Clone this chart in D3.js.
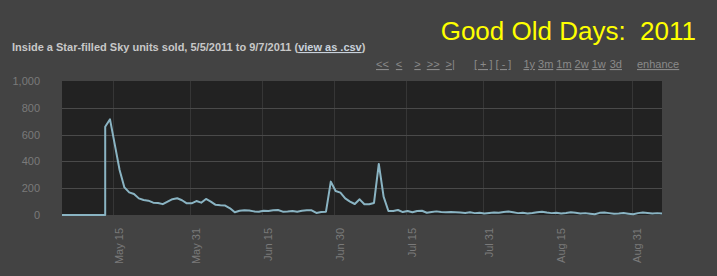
<!DOCTYPE html>
<html>
<head>
<meta charset="utf-8">
<script src="https://cdn.jsdelivr.net/npm/d3@7"></script>
<style>
  body { margin: 0; background: #434343; }
  svg { display: block; font-family: "Liberation Sans", Arial, sans-serif; }
</style>
</head>
<body>
<div id="chart"></div>
<script>
// daily units sold, starting 5/5/2011
var startDate = "2011-05-05";
var firstSaleIndex = 9;   // day the game launched (sales before it are 0)
var units = [
  0, 0, 0, 0, 0, 0, 0, 0, 0,
  659, 714, 525, 336, 206, 169, 157, 124, 112, 107,
  92, 90, 81, 100, 118, 125, 110, 87, 87, 104,
  92, 120, 100, 76, 72, 70, 50, 20, 32, 35,
  34, 27, 24, 32, 30, 35, 37, 25, 27, 30,
  25, 32, 35, 35, 15, 22, 25, 249, 179, 167,
  124, 100, 82, 117, 80, 80, 90, 381, 137, 30,
  30, 37, 22, 30, 20, 30, 32, 17, 22, 27,
  22, 20, 22, 20, 18, 15, 20, 14, 16, 12,
  15, 18, 16, 22, 26, 20, 14, 16, 12, 15,
  20, 25, 18, 14, 16, 12, 15, 20, 16, 12,
  14, 10, 6, 16, 18, 14, 10, 12, 15, 10,
  5, 14, 18, 15, 12, 14, 12
];
var yTicks = [0, 200, 400, 600, 800, 1000];
var xTickDates = ["2011-05-15", "2011-05-31", "2011-06-15", "2011-06-30",
                  "2011-07-15", "2011-07-31", "2011-08-15", "2011-08-31"];
var tickShiftHours = 16; // ticks sit a bit after midnight on the source chart

var title = "Good Old Days:  2011";
var subtitle = "Inside a Star-filled Sky units sold, 5/5/2011 to 9/7/2011 (";
var csvLink = "view as .csv";
var navLinks = ["<<", "<", ">", ">>", ">|", "[ + ]", "[ - ]", "1y", "3m", "1m", "2w", "1w", "3d", "enhance"];
var navGaps  = [0, 7, 12, 6, 6, 19, 3, 12, 3, 3, 3, 3, 4, 15];

var W = 717, H = 276;
var margin = {top: 81, right: 55, bottom: 61, left: 62},
    width = W - margin.left - margin.right,
    height = H - margin.top - margin.bottom;

var parse = d3.timeParse("%Y-%m-%d");
var t0 = parse(startDate);
var data = units.map(function(u, i) { return {date: d3.timeDay.offset(t0, i), units: u}; });
// launch day: vertical jump from 0
var lineData = data.slice(0, firstSaleIndex)
  .concat([{date: data[firstSaleIndex].date, units: 0}])
  .concat(data.slice(firstSaleIndex));

var svg = d3.select("#chart").append("svg")
    .attr("width", W)
    .attr("height", H);

svg.append("rect").attr("width", W).attr("height", H).attr("fill", "#434343");

var x = d3.scaleTime()
    .domain(d3.extent(data, function(d) { return d.date; }))
    .range([0, width]);
var y = d3.scaleLinear().domain([0, 1000]).range([height, 0]);

// title
svg.append("text")
    .attr("x", 696)
    .attr("y", 40)
    .attr("text-anchor", "end")
    .attr("fill", "#ffff00")
    .attr("font-size", 26)
    .style("white-space", "pre")
    .text(title);

var sub = svg.append("text")
    .attr("x", 12)
    .attr("y", 51)
    .attr("font-size", 11)
    .attr("font-weight", "bold")
    .attr("fill", "#c8c8c8");
sub.append("tspan").text(subtitle);
sub.append("tspan").attr("text-decoration", "underline").attr("fill", "#c9d2dc").text(csvLink);
sub.append("tspan").text(")");

// nav links
var navX = 376;
navLinks.forEach(function(s, i) {
  navX += navGaps[i];
  var t = svg.append("text")
      .attr("x", navX)
      .attr("y", 68)
      .attr("font-size", 11)
      .attr("fill", "#8a8a8a")
      .attr("text-decoration", "underline")
      .text(s);
  navX += t.node().getComputedTextLength();
});

var g = svg.append("g")
    .attr("transform", "translate(" + margin.left + "," + margin.top + ")");

g.append("rect")
    .attr("width", width)
    .attr("height", height)
    .attr("fill", "#222222");

var xTicks = xTickDates.map(function(s) { return d3.timeHour.offset(parse(s), tickShiftHours); });

// vertical grid
g.selectAll(".vgrid")
  .data(xTicks)
  .enter().append("line")
    .attr("class", "vgrid")
    .attr("x1", function(d) { return Math.round(x(d)) + 0.5; })
    .attr("x2", function(d) { return Math.round(x(d)) + 0.5; })
    .attr("y1", 0)
    .attr("y2", height)
    .attr("stroke", "#363636");

// horizontal grid
g.selectAll(".hgrid")
  .data(yTicks.filter(function(v) { return v > 0 && v < 1000; }))
  .enter().append("line")
    .attr("class", "hgrid")
    .attr("x1", 0)
    .attr("x2", width)
    .attr("y1", function(d) { return Math.round(y(d)) + 0.5; })
    .attr("y2", function(d) { return Math.round(y(d)) + 0.5; })
    .attr("stroke", "#4a4a4a");

var yAxis = d3.axisLeft(y)
    .tickValues(yTicks)
    .tickSize(0)
    .tickPadding(22)
    .tickFormat(d3.format(","));

var yg = g.append("g").call(yAxis);
yg.select(".domain").remove();
yg.selectAll("text").attr("fill", "#7a7a7a").attr("font-size", 11)
  .style("font-family", "'Liberation Sans', Arial, sans-serif");

var xAxis = d3.axisBottom(x)
    .tickValues(xTicks)
    .tickSize(0)
    .tickFormat(d3.timeFormat("%b %-d"));

var xg = g.append("g")
    .attr("transform", "translate(0," + height + ")")
    .call(xAxis);
xg.select(".domain").remove();
xg.selectAll("text")
    .attr("fill", "#7a7a7a")
    .attr("font-size", 11)
    .style("font-family", "'Liberation Sans', Arial, sans-serif")
    .attr("text-anchor", "end")
    .attr("transform", "rotate(-90)")
    .attr("x", -13)
    .attr("y", 0)
    .attr("dy", "0.85em");

var line = d3.line()
    .x(function(d) { return x(d.date); })
    .y(function(d) { return y(d.units); });

g.append("path")
    .datum(lineData)
    .attr("fill", "none")
    .attr("stroke", "#8ab4c3")
    .attr("stroke-width", 2)
    .attr("stroke-linejoin", "round")
    .attr("d", line);
</script>
</body>
</html>
